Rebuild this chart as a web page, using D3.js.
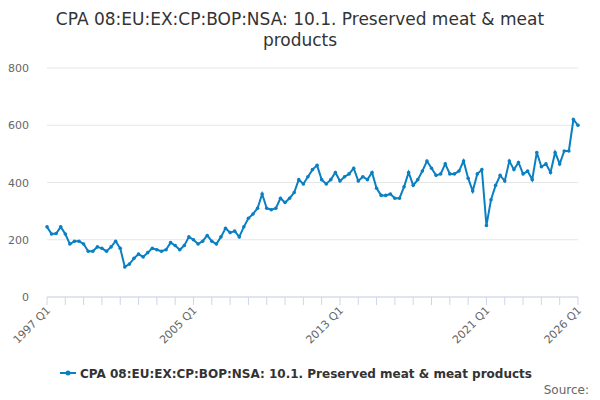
<!DOCTYPE html>
<html><head><meta charset="utf-8">
<script src="https://cdn.jsdelivr.net/npm/d3@7"></script>
<style>body{margin:0;font-family:"DejaVu Sans",sans-serif;}</style>
</head><body><div id="chart"></div>
<script>
const seriesName = "CPA 08:EU:EX:CP:BOP:NSA: 10.1. Preserved meat & meat products";
const startYear = 1997;
const values = [
  245,220,222,245, 220,185,195,195, 185,160,160,175, 170,160,175,195,
  170,105,115,135, 150,140,155,170, 165,160,165,190, 180,165,180,210,
  200,185,195,215, 195,185,210,240, 225,230,210,245, 275,290,310,360,
  310,305,310,345, 330,345,365,410, 395,420,445,460, 410,395,410,435,
  405,420,430,450, 405,420,410,435, 380,355,355,360, 345,345,385,435,
  390,410,440,475, 450,425,430,465, 430,430,440,475, 415,370,430,445,
  250,340,390,425, 405,475,445,470, 430,440,410,505, 455,465,435,505,
  465,510,510,620, 600
];
const yTicks = [0, 200, 400, 600, 800];
const labelIdx = [0, 32, 64, 96, 116];

const W = 600, H = 400, m = {l: 47, r: 22, t: 68, b: 103};
const svg = d3.select("#chart").append("svg").attr("width", W).attr("height", H);

svg.append("text").attr("x", W/2).attr("y", 25).attr("text-anchor", "middle")
  .attr("font-size", 17).attr("fill", "#333").text("CPA 08:EU:EX:CP:BOP:NSA: 10.1. Preserved meat & meat");
svg.append("text").attr("x", W/2).attr("y", 46).attr("text-anchor", "middle")
  .attr("font-size", 17).attr("fill", "#333").text("products");

const x = d3.scaleLinear().domain([0, values.length - 1]).range([m.l, W - m.r]);
const y = d3.scaleLinear().domain([0, 800]).range([H - m.b, m.t]);
const label = i => `${startYear + Math.floor(i/4)} Q${i%4 + 1}`;

svg.append("g").selectAll("line").data(yTicks).join("line")
  .attr("x1", m.l).attr("x2", W - m.r).attr("y1", d => y(d)).attr("y2", d => y(d))
  .attr("stroke", "#e6e6e6");
svg.append("g").selectAll("text").data(yTicks).join("text")
  .attr("x", m.l - 18).attr("y", d => y(d) + 4).attr("text-anchor", "end")
  .attr("font-size", 11).attr("fill", "#666").text(d => d);

// x axis
svg.append("line").attr("x1", m.l).attr("x2", W - m.r).attr("y1", y(0)).attr("y2", y(0)).attr("stroke", "#ccd6eb");
svg.append("g").selectAll("line").data(d3.range(0, values.length, 4)).join("line")
  .attr("x1", d => x(d)).attr("x2", d => x(d)).attr("y1", y(0)).attr("y2", y(0) + 8).attr("stroke", "#ccd6eb");
svg.append("g").selectAll("text").data(labelIdx).join("text")
  .attr("transform", d => `translate(${x(d) + 4},${y(0) + 14}) rotate(-45)`)
  .attr("text-anchor", "end").attr("font-size", 11).attr("fill", "#666").text(label);

const line = d3.line().x((d, i) => x(i)).y(d => y(d));
svg.append("path").datum(values).attr("d", line).attr("fill", "none")
  .attr("stroke", "#0a7fc2").attr("stroke-width", 2);
svg.append("g").selectAll("circle").data(values).join("circle")
  .attr("cx", (d, i) => x(i)).attr("cy", d => y(d)).attr("r", 1.8).attr("fill", "#0a7fc2");

// legend
const lg = svg.append("g").attr("transform", "translate(60,373)");
lg.append("line").attr("x1", 0).attr("x2", 16).attr("stroke", "#0a7fc2").attr("stroke-width", 2);
lg.append("circle").attr("cx", 8).attr("r", 2.5).attr("fill", "#0a7fc2");
lg.append("text").attr("x", 20).attr("y", 5).attr("font-size", 12).attr("font-weight", "bold")
  .attr("fill", "#333").text(seriesName);
svg.append("text").attr("x", 589).attr("y", 394).attr("text-anchor", "end")
  .attr("font-size", 12).attr("fill", "#666").text("Source:");
</script></body></html>
